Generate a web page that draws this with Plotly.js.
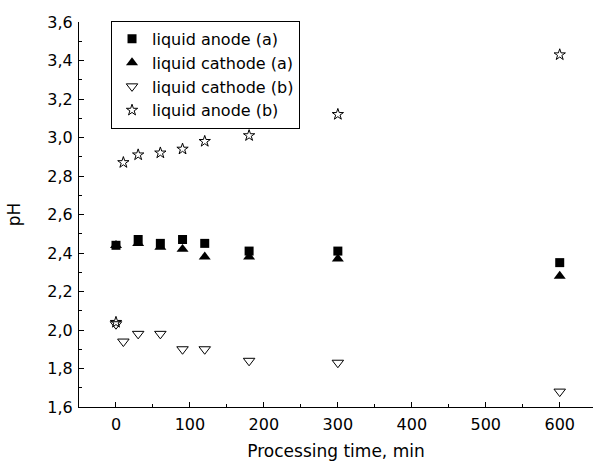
<!DOCTYPE html>
<html>
<head>
<meta charset="utf-8">
<script src="https://cdn.plot.ly/plotly-3.0.1.min.js"></script>
<style>html,body{margin:0;padding:0;background:#fff;}#chart{width:593px;height:463px;}</style>
</head>
<body>
<div id="chart"></div>
<script>
// Data
const timeAnodeA = [0, 30, 60, 90, 120, 180, 300, 600];
const pHAnodeA   = [2.44, 2.47, 2.45, 2.47, 2.45, 2.41, 2.41, 2.35];

const timeCathodeA = [0, 30, 60, 90, 120, 180, 300, 600];
const pHCathodeA   = [2.44, 2.45, 2.43, 2.42, 2.38, 2.38, 2.37, 2.28];

const timeCathodeB = [0, 10, 30, 60, 90, 120, 180, 300, 600];
const pHCathodeB   = [2.03, 1.94, 1.98, 1.98, 1.90, 1.90, 1.84, 1.83, 1.68];

const timeAnodeB = [0, 10, 30, 60, 90, 120, 180, 300, 600];
const pHAnodeB   = [2.04, 2.87, 2.91, 2.92, 2.94, 2.98, 3.01, 3.12, 3.43];

const seriesNames = ['liquid anode (a)', 'liquid cathode (a)', 'liquid cathode (b)', 'liquid anode (b)'];
const xTitle = 'Processing time, min';
const yTitle = 'pH';

const FONT = 'DejaVu Sans, Arial, sans-serif';

const traces = [
  {x: timeAnodeA, y: pHAnodeA, name: seriesNames[0], mode: 'markers', type: 'scatter',
   marker: {symbol: 'square', size: 9, color: '#000'}},
  {x: timeCathodeA, y: pHCathodeA, name: seriesNames[1], mode: 'markers', type: 'scatter',
   marker: {symbol: 'triangle-up', size: 10.5, color: '#000'}},
  {x: timeCathodeB, y: pHCathodeB, name: seriesNames[2], mode: 'markers', type: 'scatter',
   marker: {symbol: 'triangle-down-open', size: 10, color: '#000', line: {width: 1, color: '#000'}}},
  {x: timeAnodeB, y: pHAnodeB, name: seriesNames[3], mode: 'markers', type: 'scatter',
   marker: {symbol: 'star-open', size: 8.5, color: '#000', line: {width: 1, color: '#000'}}}
];

const layout = {
  width: 593, height: 463,
  margin: {l: 79, r: 0, t: 22, b: 56, pad: 0},
  paper_bgcolor: '#fff', plot_bgcolor: '#fff',
  separators: ',.',
  font: {family: FONT, size: 16, color: '#000'},
  showlegend: true,
  legend: {
    x: 0.0623, y: 1.003, xanchor: 'left', yanchor: 'top',
    bordercolor: '#000', borderwidth: 1, bgcolor: 'rgba(255,255,255,0)',
    font: {family: FONT, size: 16, color: '#000'},
    tracegroupgap: 0
  },
  xaxis: {
    range: [-50, 645], showgrid: false, zeroline: false,
    showline: true, linecolor: '#000', linewidth: 1, mirror: false,
    ticks: 'inside', ticklen: 5, tickwidth: 1, tickcolor: '#000',
    tick0: 0, dtick: 100, ticklabelstandoff: 3,
    minor: {ticks: 'inside', ticklen: 3, tickwidth: 1, tickcolor: '#000', dtick: 50, tick0: 0, showgrid: false},
    tickfont: {family: FONT, size: 16, color: '#000'},
    title: {text: xTitle, font: {family: FONT, size: 17, color: '#000'}, standoff: 11}
  },
  yaxis: {
    range: [1.6, 3.6], showgrid: false, zeroline: false,
    showline: true, linecolor: '#000', linewidth: 1, mirror: false,
    ticks: 'inside', ticklen: 5, tickwidth: 1, tickcolor: '#000',
    tick0: 1.6, dtick: 0.2, tickformat: '.1f', ticklabelstandoff: 2,
    minor: {ticks: 'inside', ticklen: 3, tickwidth: 1, tickcolor: '#000', dtick: 0.1, tick0: 1.6, showgrid: false},
    tickfont: {family: FONT, size: 16, color: '#000'},
    title: {text: yTitle, font: {family: FONT, size: 17, color: '#000'}, standoff: 22}
  }
};

Plotly.newPlot('chart', traces, layout, {displayModeBar: false, staticPlot: true});
</script>
</body>
</html>
